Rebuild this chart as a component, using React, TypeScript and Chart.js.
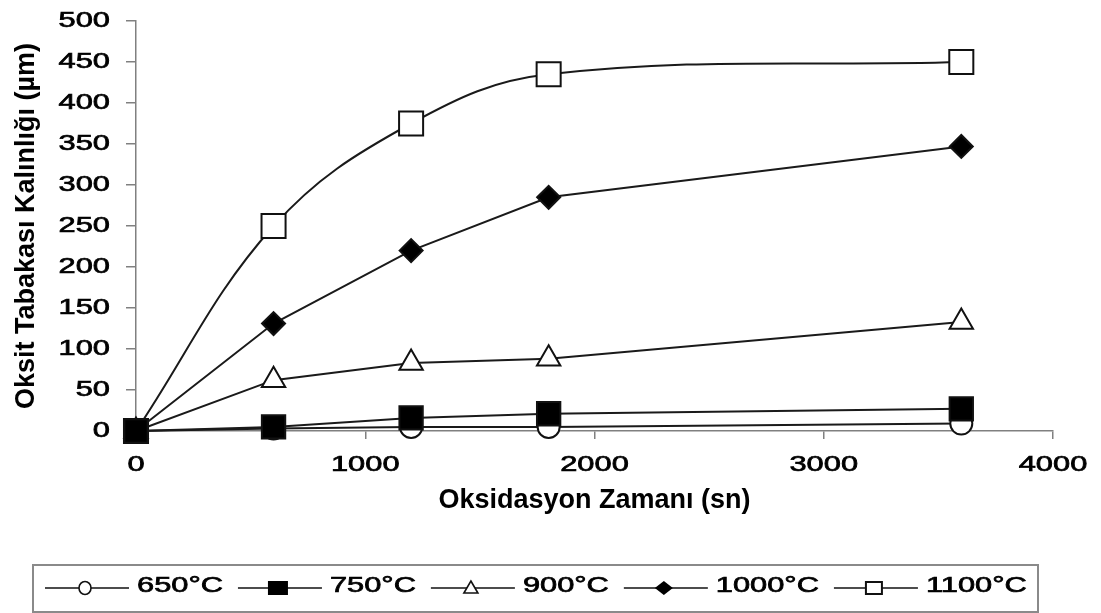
import React, { useEffect, useRef } from "react";
import { Chart, registerables } from "chart.js";

Chart.register(...registerables);

// ---- data ----
const times = [0, 600, 1200, 1800, 3600];
const seriesNames = ["650°C", "750°C", "900°C", "1000°C", "1100°C"];
const t650 = [0, 3, 5, 5, 9];
const t750 = [0, 5, 16, 21, 27];
const t900 = [0, 62, 83, 88, 133];
const t1000 = [0, 131, 220, 285, 347];
const t1100 = [0, 250, 375, 435, 450];
const xTicks = [0, 1000, 2000, 3000, 4000];
const yTicks = [0, 50, 100, 150, 200, 250, 300, 350, 400, 450, 500];
const xTitle = "Oksidasyon Zamanı (sn)";
const yTitle = "Oksit Tabakası Kalınlığı (µm)";

const FONT = "'Liberation Sans', Arial, sans-serif";
const STRETCH = 1.4;

function stretchText(ctx: CanvasRenderingContext2D, text: string, x: number, y: number, align: CanvasTextAlign) {
  ctx.save();
  ctx.translate(x, y);
  ctx.scale(STRETCH, 1);
  ctx.textAlign = align;
  ctx.textBaseline = "middle";
  ctx.lineWidth = 0.7;
  ctx.strokeStyle = "#000";
  ctx.fillText(text, 0, 0);
  ctx.strokeText(text, 0, 0);
  ctx.restore();
}

function drawLegendMarker(ctx: CanvasRenderingContext2D, kind: number, cx: number, cy: number) {
  ctx.save();
  ctx.lineWidth = 1.6;
  ctx.strokeStyle = "#111";
  ctx.beginPath();
  if (kind === 0) {
    ctx.ellipse(cx, cy, 6, 6.5, 0, 0, Math.PI * 2);
    ctx.fillStyle = "#fff";
    ctx.fill();
    ctx.stroke();
  } else if (kind === 1) {
    ctx.fillStyle = "#000";
    ctx.fillRect(cx - 10, cy - 7, 20, 14);
  } else if (kind === 2) {
    ctx.moveTo(cx, cy - 7);
    ctx.lineTo(cx + 7, cy + 5);
    ctx.lineTo(cx - 7, cy + 5);
    ctx.closePath();
    ctx.fillStyle = "#fff";
    ctx.fill();
    ctx.stroke();
  } else if (kind === 3) {
    ctx.moveTo(cx, cy - 7);
    ctx.lineTo(cx + 9, cy);
    ctx.lineTo(cx, cy + 7);
    ctx.lineTo(cx - 9, cy);
    ctx.closePath();
    ctx.fillStyle = "#000";
    ctx.fill();
  } else {
    ctx.rect(cx - 8, cy - 6, 16, 12);
    ctx.fillStyle = "#fff";
    ctx.fill();
    ctx.lineWidth = 2;
    ctx.stroke();
  }
  ctx.restore();
}

const textPlugin = {
  id: "stretchedText",
  afterDraw(chart: any) {
    const ctx: CanvasRenderingContext2D = chart.ctx;
    const xs = chart.scales.x;
    const ys = chart.scales.y;
    const area = chart.chartArea;
    ctx.save();
    ctx.fillStyle = "#000";
    ctx.font = `22px ${FONT}`;
    yTicks.forEach((v) => stretchText(ctx, String(v), area.left - 26, ys.getPixelForValue(v), "right"));
    xTicks.forEach((v) => stretchText(ctx, String(v), xs.getPixelForValue(v), area.bottom + 34, "center"));

    // legend
    const boxL = 33, boxT = 565, boxR = 1038, boxB = 612;
    ctx.strokeStyle = "#8a8a8a";
    ctx.lineWidth = 2;
    ctx.strokeRect(boxL, boxT, boxR - boxL, boxB - boxT);
    const ly = 588;
    let x = 45;
    seriesNames.forEach((name, i) => {
      const lineLen = 84;
      ctx.strokeStyle = "#111";
      ctx.lineWidth = 1.6;
      ctx.beginPath();
      ctx.moveTo(x, ly);
      ctx.lineTo(x + lineLen, ly);
      ctx.stroke();
      drawLegendMarker(ctx, i, x + 40, ly);
      const tx = x + lineLen + 8;
      ctx.fillStyle = "#000";
      stretchText(ctx, name, tx, ly - 2, "left");
      const w = ctx.measureText(name).width * STRETCH;
      x = tx + w + 15;
    });
    ctx.restore();
  },
};

const seriesValues = [t650, t750, t900, t1000, t1100];
const pointStyles = ["circle", "rect", "triangle", "rectRot", "rect"];
const pointRadii = [11, 16.5, 13.5, 11.5, 17];
const pointFills = ["#fff", "#000", "#fff", "#000", "#fff"];
const drawOrder = [2, -1, 0, 0, 0];
const tensions = [0, 0, 0, 0, 0.38];

export default function App() {
  const canvasRef = useRef<HTMLCanvasElement | null>(null);

  useEffect(() => {
    if (!canvasRef.current) return;
    const datasets = seriesNames.map((name, i) => ({
      label: name,
      data: times.map((t, j) => ({ x: t, y: seriesValues[i][j] })),
      borderColor: "#1a1a1a",
      borderWidth: 2,
      backgroundColor: pointFills[i],
      pointStyle: pointStyles[i] as any,
      pointRadius: pointRadii[i],
      pointBackgroundColor: pointFills[i],
      pointBorderColor: "#111",
      pointBorderWidth: 2,
      tension: tensions[i],
      order: drawOrder[i],
      clip: false as any,
      fill: false,
    }));

    const chart = new Chart(canvasRef.current, {
      type: "line",
      data: { datasets },
      options: {
        animation: false,
        responsive: false,
        maintainAspectRatio: false,
        layout: { padding: { left: 4, top: 21, right: 48, bottom: 92 } },
        plugins: { legend: { display: false }, tooltip: { enabled: false } },
        scales: {
          x: {
            type: "linear",
            min: 0,
            max: 4000,
            ticks: { stepSize: 1000, color: "rgba(0,0,0,0)", font: { size: 22, family: FONT } },
            grid: { display: true, drawOnChartArea: false, drawTicks: true, tickLength: 8, color: "#808080", lineWidth: 1.5 },
            border: { display: true, color: "#808080", width: 1.5 },
            title: {
              display: true,
              text: xTitle,
              color: "#000",
              font: { family: FONT, size: 27, weight: "bold" },
              padding: { top: 0, bottom: 4 },
            },
            afterFit: (s: any) => {
              s.height = 90;
            },
          },
          y: {
            min: 0,
            max: 500,
            ticks: { stepSize: 50, color: "rgba(0,0,0,0)", font: { size: 22, family: FONT } },
            grid: { display: true, drawOnChartArea: false, drawTicks: true, tickLength: 10, color: "#808080", lineWidth: 1.5 },
            border: { display: true, color: "#808080", width: 1.5 },
            title: {
              display: true,
              text: yTitle,
              color: "#000",
              font: { family: FONT, size: 27, weight: "bold" },
              padding: { top: 6, bottom: 0 },
            },
            afterFit: (s: any) => {
              s.width = 132;
            },
          },
        },
      },
      plugins: [textPlugin],
    });
    return () => chart.destroy();
  }, []);

  return (
    <div style={{ position: "absolute", left: 0, top: 0, width: 1101, height: 613, background: "#fff" }}>
      <canvas ref={canvasRef} width={1101} height={613} style={{ display: "block" }} />
    </div>
  );
}
